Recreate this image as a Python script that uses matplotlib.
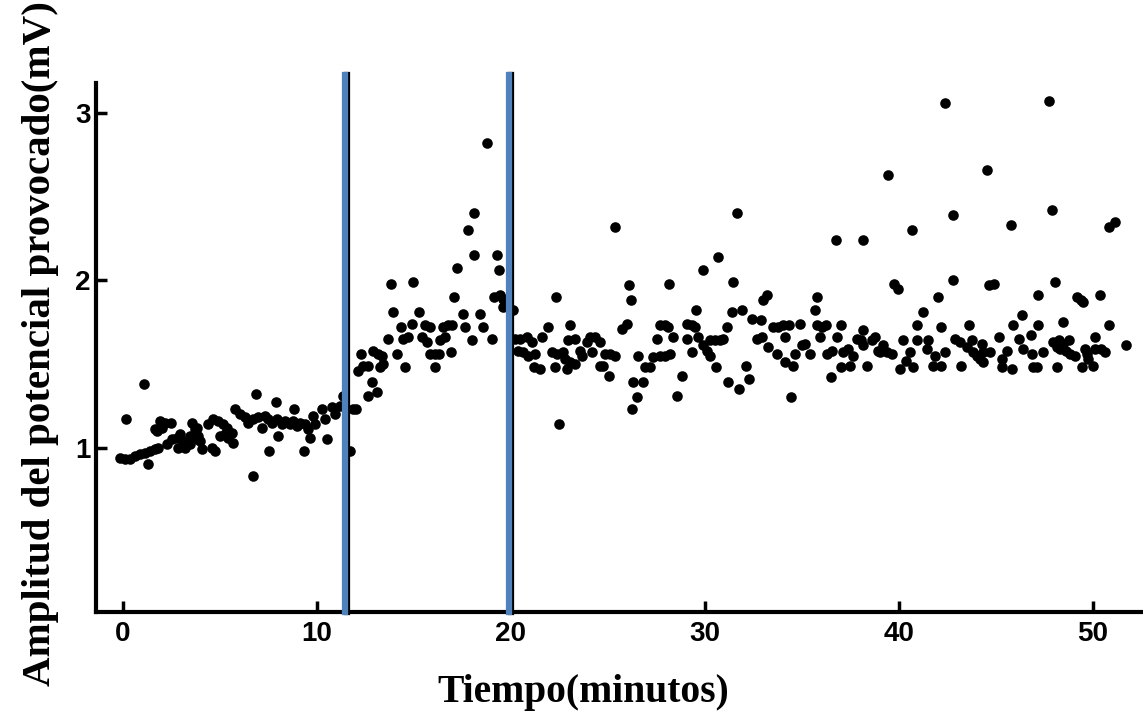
import numpy as np
import matplotlib
matplotlib.use("Agg")
import matplotlib.pyplot as plt
import matplotlib.patheffects as pe

# baseline, 0 - 12 min
t_base = [-0.15, 0.10, 0.14, 0.36, 0.62, 0.88, 1.08, 1.13, 1.27, 1.39, 1.65, 1.65, 1.74, 1.82,
          1.91, 1.99, 2.16, 2.25, 2.47, 2.51, 2.77, 2.85, 2.94, 3.11, 3.20, 3.28, 3.45, 3.45,
          3.54, 3.71, 3.80, 3.80, 3.88, 3.97, 4.06, 4.40, 4.57, 4.65, 4.74, 4.91, 5.00, 5.17,
          5.26, 5.35, 5.43, 5.60, 5.69, 5.77, 6.03, 6.29, 6.46, 6.69, 6.72, 6.84, 6.97, 7.15,
          7.32, 7.49, 7.53, 7.66, 7.87, 7.92, 8.01, 8.18, 8.35, 8.61, 8.78, 8.83, 8.95, 9.12,
          9.35, 9.38, 9.55, 9.64, 9.81, 9.90, 10.24, 10.41, 10.50, 10.76, 10.93, 11.19, 11.36,
          11.70, 11.85, 12.00]
a_base = [0.94, 0.93, 1.17, 0.93, 0.95, 0.96, 1.38, 0.97, 0.90, 0.98, 0.99, 1.11, 1.10, 1.00,
          1.16, 1.12, 1.15, 1.02, 1.15, 1.05, 1.06, 1.00, 1.08, 1.04, 1.00, 1.03, 1.07, 1.02,
          1.15, 1.11, 1.05, 1.12, 1.07, 1.04, 0.99, 1.14, 1.00, 1.17, 0.98, 1.16, 1.07, 1.14,
          1.08, 1.12, 1.06, 1.09, 1.03, 1.23, 1.20, 1.18, 1.15, 0.83, 1.17, 1.32, 1.18, 1.12,
          1.19, 1.17, 0.98, 1.15, 1.27, 1.17, 1.07, 1.14, 1.16, 1.14, 1.16, 1.23, 1.13, 1.15,
          0.98, 1.14, 1.11, 1.06, 1.19, 1.14, 1.23, 1.17, 1.05, 1.24, 1.20, 1.25, 1.31,
          0.98, 1.23, 1.23]

# tetanus / potentiation, 12 - 20 min
t_pot = [12.13, 12.25, 12.39, 12.65, 12.65, 12.82, 12.90, 13.08, 13.16, 13.25, 13.33, 13.42,
         13.68, 13.80, 13.90, 14.11, 14.31, 14.45, 14.54, 14.71, 14.88, 14.93, 15.28, 15.40,
         15.57, 15.65, 15.82, 15.82, 16.08, 16.08, 16.30, 16.34, 16.51, 16.60, 16.77, 16.89,
         16.94, 17.06, 17.20, 17.54, 17.63, 17.80, 17.97, 18.09, 18.11, 18.40, 18.57, 18.76,
         19.00, 19.12, 19.26, 19.40, 19.43, 19.57, 19.60, 20.09]
a_pot = [1.46, 1.56, 1.49, 1.49, 1.31, 1.39, 1.58, 1.33, 1.56, 1.48, 1.55, 1.50,
         1.65, 1.98, 1.81, 1.56, 1.72, 1.65, 1.48, 1.66, 1.74, 1.99, 1.81, 1.66,
         1.73, 1.63, 1.72, 1.56, 1.56, 1.48, 1.56, 1.64, 1.72, 1.66, 1.73, 1.57,
         1.73, 1.90, 2.07, 1.80, 1.72, 2.30, 1.64, 2.40, 2.15, 1.80, 1.72, 2.82,
         1.65, 1.90, 2.15, 2.06, 1.91, 1.84, 1.89, 1.82]

# after, 20 - 52 min
t_post = [20.21, 20.46, 20.81, 21.07, 20.38, 20.63, 20.89, 21.24, 21.58, 21.92, 21.20, 21.49,
          22.10, 22.36, 22.27, 23.04, 22.95, 23.30, 22.78, 23.04, 22.87, 23.30, 22.70, 23.56,
          23.64, 23.90, 24.07, 24.33, 24.59, 24.19, 24.85, 25.10, 25.36, 24.59, 24.76, 25.05,
          22.49, 22.32, 25.71, 25.96, 26.19, 26.10, 25.36, 26.53, 26.30, 26.82, 26.48, 26.22,
          26.91, 27.16, 27.51, 27.34, 27.68, 27.94, 28.20, 27.68, 27.94, 28.11, 28.37, 28.80,
          28.54, 29.06, 29.06, 29.31, 29.48, 29.54, 29.31, 29.65, 29.91, 30.09, 30.26, 30.26,
          30.52, 30.77, 30.94, 30.55, 31.12, 31.38, 31.92, 31.20, 31.75, 32.10, 32.27, 32.41,
          32.89, 32.66, 32.95, 33.01, 33.18, 33.26, 33.52, 33.78, 34.04, 34.33, 33.70, 34.12,
          34.12, 34.55, 34.43, 34.64, 34.90, 35.02, 30.69, 29.88, 31.46, 28.16, 31.66, 35.76,
          35.67, 35.76, 36.01, 36.24, 35.93, 35.15, 35.41, 36.27, 36.53, 37.00, 36.82, 36.48,
          37.00, 37.47, 37.13, 37.39, 37.64, 37.82, 38.03, 38.13, 38.16, 38.34, 38.59, 38.76,
          38.93, 39.19, 39.37, 39.62, 39.02, 40.19, 40.05, 40.36, 40.57, 40.71, 40.94, 40.94,
          41.25, 41.51, 41.43, 41.74, 41.86, 42.15, 42.39, 42.03, 42.15, 42.89, 43.14, 43.18,
          43.62, 43.49, 43.75, 43.83, 44.01, 44.18, 44.26, 44.35, 44.31, 44.69, 45.17, 45.29,
          45.29, 45.55, 45.81, 45.89, 46.32, 46.19, 46.41, 46.79, 46.84, 46.92, 47.10, 47.15,
          47.18, 47.41, 47.95, 48.26, 48.47, 48.78, 48.13, 48.30, 48.61, 48.47, 48.16, 48.81,
          49.07, 49.42, 49.16, 49.37, 49.47, 49.59, 49.68, 49.76, 49.98, 50.10, 50.10, 50.36,
          50.40, 50.62, 50.84, 51.70,
          42.37, 47.75, 39.43, 44.52, 36.75, 38.16, 40.67, 42.80, 45.76, 47.89, 50.84, 51.13,
          39.76, 39.96, 42.77, 44.66, 44.91, 48.06]
a_post = [1.65, 1.65, 1.66, 1.63, 1.58, 1.57, 1.55, 1.56, 1.66, 1.72, 1.48, 1.47,
          1.57, 1.56, 1.48, 1.73, 1.64, 1.65, 1.53, 1.51, 1.47, 1.50, 1.57, 1.58,
          1.55, 1.63, 1.66, 1.66, 1.63, 1.57, 1.56, 1.56, 1.55, 1.49, 1.49, 1.43,
          1.14, 1.90, 1.71, 1.74, 1.88, 1.97, 2.32, 1.55, 1.39, 1.39, 1.30, 1.23,
          1.48, 1.48, 1.65, 1.54, 1.55, 1.55, 1.56, 1.73, 1.73, 1.72, 1.66, 1.43,
          1.31, 1.65, 1.74, 1.73, 1.72, 1.82, 1.57, 1.66, 1.61, 1.58, 1.55, 1.64,
          1.64, 1.64, 1.65, 1.48, 1.72, 1.81, 1.82, 1.39, 1.35, 1.49, 1.41, 1.77,
          1.76, 1.65, 1.66, 1.88, 1.91, 1.60, 1.72, 1.72, 1.73, 1.73, 1.56, 1.66,
          1.51, 1.49, 1.30, 1.56, 1.74, 1.61, 2.14, 2.06, 1.99, 1.98, 2.40, 1.90,
          1.82, 1.73, 1.72, 1.73, 1.66, 1.62, 1.56, 1.56, 1.58, 1.73, 1.66, 1.42,
          1.48, 1.49, 1.57, 1.59, 1.55, 1.65, 1.64, 1.61, 1.70, 1.49, 1.64, 1.66,
          1.58, 1.61, 1.57, 1.56, 1.57, 1.64, 1.47, 1.52, 1.57, 1.48, 1.73, 1.64,
          1.81, 1.64, 1.59, 1.49, 1.55, 1.49, 1.57, 1.90, 1.72, 1.65, 1.63, 1.49,
          1.73, 1.60, 1.64, 1.57, 1.55, 1.53, 1.62, 1.57, 1.51, 1.57, 1.66, 1.53,
          1.48, 1.58, 1.47, 1.73, 1.79, 1.65, 1.59, 1.67, 1.56, 1.48, 1.48, 1.73,
          1.91, 1.57, 1.63, 1.64, 1.62, 1.64, 1.60, 1.59, 1.58, 1.75, 1.48, 1.56,
          1.55, 1.48, 1.90, 1.88, 1.87, 1.59, 1.56, 1.53, 1.49, 1.66, 1.59, 1.91,
          1.59, 1.57, 1.73, 1.61,
          3.06, 3.07, 2.63, 2.66, 2.24, 2.24, 2.30, 2.39, 2.33, 2.42, 2.32, 2.35,
          1.98, 1.95, 2.00, 1.97, 1.98, 1.99]

t = np.array(t_base + t_pot + t_post)
amp = np.array(a_base + a_pot + a_post)

marks = [11.44, 19.9]          # start / end of stimulation (blue bars)
xticks = [0, 10, 20, 30, 40, 50]
yticks = [1, 2, 3]

fig = plt.figure(figsize=(11.43, 7.18), dpi=100)
ax = fig.add_axes([0.084, 0.148, 0.916, 0.737])

ax.scatter(t, amp, s=58, c='black', linewidths=0, zorder=3)

for m in marks:
    ax.axvline(m, ymin=0, ymax=1.015, color='#4f81bd', lw=4.5, clip_on=False, zorder=4,
               path_effects=[pe.SimpleLineShadow(offset=(1.5, 0), shadow_color='black', alpha=1),
                             pe.Normal()])

ax.set_xlim(-1.39, 52.58)
ax.set_ylim(0.02, 3.18)
ax.set_xticks(xticks)
ax.set_yticks(yticks)
ax.spines['top'].set_visible(False)
ax.spines['right'].set_visible(False)
ax.spines['left'].set_linewidth(3)
ax.spines['bottom'].set_linewidth(3)
ax.tick_params(direction='in', length=8, width=2.5, pad=7)
ax.tick_params(axis='y', pad=4)
for lab in ax.get_xticklabels() + ax.get_yticklabels():
    lab.set_fontfamily('Liberation Sans')
    lab.set_fontweight('bold')
    lab.set_fontsize(20)

fig.text(0.51, 0.035, 'Tiempo(minutos)', ha='center', va='center',
         family='Liberation Serif', weight='bold', fontsize=28.5)
fig.text(0.035, 0.521, 'Amplitud del potencial provocado(mV)', ha='center', va='center',
         rotation=90, family='Liberation Serif', weight='bold', fontsize=29.5)

fig.savefig('out.png', dpi=100)
